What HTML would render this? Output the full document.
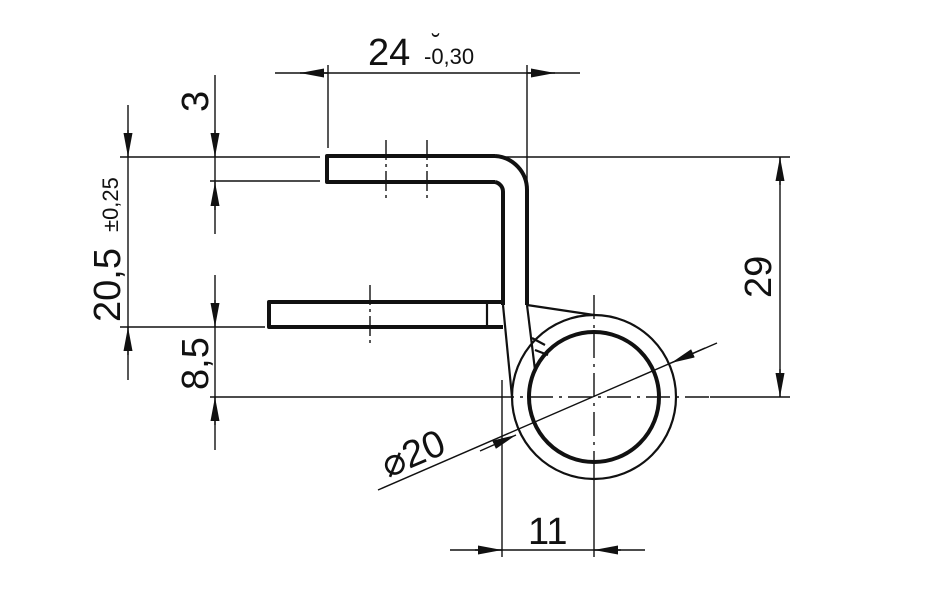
<!DOCTYPE html>
<html><head><meta charset="utf-8"><style>html,body{margin:0;padding:0;background:#fff}svg{display:block}text{font-family:"Liberation Sans",sans-serif;fill:#111}</style></head><body>
<svg width="925" height="597" viewBox="0 0 925 597" xmlns="http://www.w3.org/2000/svg">
<defs>
<marker id="a" viewBox="0 0 24 9" refX="24" refY="4.5" markerWidth="24" markerHeight="9" markerUnits="userSpaceOnUse" orient="auto"><path d="M0,0 L24,4.5 L0,9 Z" fill="#111"/></marker>
</defs>
<g stroke="#111" stroke-width="1.4" fill="none">
<line x1="120" y1="157" x2="320" y2="157"/>
<line x1="210" y1="181" x2="320" y2="181"/>
<line x1="120" y1="327" x2="265" y2="327"/>
<line x1="210" y1="397" x2="490" y2="397"/>
<line x1="496" y1="157" x2="790" y2="157"/>
<line x1="710" y1="397" x2="790" y2="397"/>
<line x1="328" y1="65" x2="328" y2="148"/>
<line x1="527" y1="65" x2="527" y2="300"/>
<line x1="502" y1="380" x2="502" y2="557"/>
<line x1="594" y1="470" x2="594" y2="557"/>
<line x1="275" y1="73" x2="580" y2="73"/>
<line x1="328" y1="73" x2="300" y2="73" marker-end="url(#a)"/>
<line x1="527" y1="73" x2="555" y2="73" marker-end="url(#a)"/>
<line x1="128" y1="105" x2="128" y2="380"/>
<line x1="128" y1="130" x2="128" y2="157" marker-end="url(#a)"/>
<line x1="128" y1="355" x2="128" y2="327" marker-end="url(#a)"/>
<line x1="215" y1="75" x2="215" y2="234"/>
<line x1="215" y1="130" x2="215" y2="157" marker-end="url(#a)"/>
<line x1="215" y1="210" x2="215" y2="182" marker-end="url(#a)"/>
<line x1="215" y1="275" x2="215" y2="450"/>
<line x1="215" y1="300" x2="215" y2="327" marker-end="url(#a)"/>
<line x1="215" y1="425" x2="215" y2="397" marker-end="url(#a)"/>
<line x1="780" y1="157" x2="780" y2="397"/>
<line x1="780" y1="185" x2="780" y2="157" marker-end="url(#a)"/>
<line x1="780" y1="369" x2="780" y2="397" marker-end="url(#a)"/>
<line x1="450" y1="550" x2="645" y2="550"/>
<line x1="475" y1="550" x2="502" y2="550" marker-end="url(#a)"/>
<line x1="621" y1="550" x2="594" y2="550" marker-end="url(#a)"/>
<line x1="378" y1="490" x2="717" y2="343"/>
<line x1="480" y1="451" x2="516" y2="435" marker-end="url(#a)"/>
<line x1="705" y1="348" x2="671" y2="363" marker-end="url(#a)"/>
<line x1="490" y1="397" x2="710" y2="397" stroke-dasharray="24,6,3,6"/>
<line x1="594" y1="295" x2="594" y2="470" stroke-dasharray="24,6,3,6"/>
<line x1="386" y1="140" x2="386" y2="198" stroke-dasharray="20,4,3,4"/>
<line x1="427" y1="140" x2="427" y2="198" stroke-dasharray="20,4,3,4"/>
<line x1="370" y1="285" x2="370" y2="343" stroke-dasharray="20,4,3,4"/>
<g stroke-width="4" stroke-linejoin="round">
<path d="M495,156 H327 V182 H495"/>
<path d="M527,305 V190 A34,34 0 0 0 495,156"/>
<path d="M503,305 V192 A10,10 0 0 0 495,182"/>
<path d="M503,302 H269 V327 H503"/>
<circle cx="594" cy="397" r="65"/>
</g>
<g stroke-width="2.2">
<line x1="487" y1="302" x2="487" y2="327"/>
<circle cx="594" cy="397" r="82"/>
<path d="M503,305 L512,397"/>
<path d="M527,305 L535,370"/>
<line x1="527" y1="305" x2="594" y2="315"/>
<path d="M535,350 L548,355 M532,338 L545,345"/>
</g>
</g>
<text x="368" y="65" font-size="38">24</text>
<text x="424" y="64" font-size="22">-0,30</text>
<text x="432" y="51" font-size="24">˘</text>
<text font-size="38" transform="translate(208,112) rotate(-90)">3</text>
<text font-size="38" transform="translate(208,390) rotate(-90)">8,5</text>
<text font-size="38" transform="translate(120,322) rotate(-90)">20,5</text>
<text font-size="22" transform="translate(118,232) rotate(-90)">±0,25</text>
<text font-size="38" transform="translate(771,298) rotate(-90)">29</text>
<text x="528" y="544" font-size="38">11</text>
<text font-size="38" transform="translate(388,478) rotate(-23)">⌀20</text>
</svg>
</body></html>
